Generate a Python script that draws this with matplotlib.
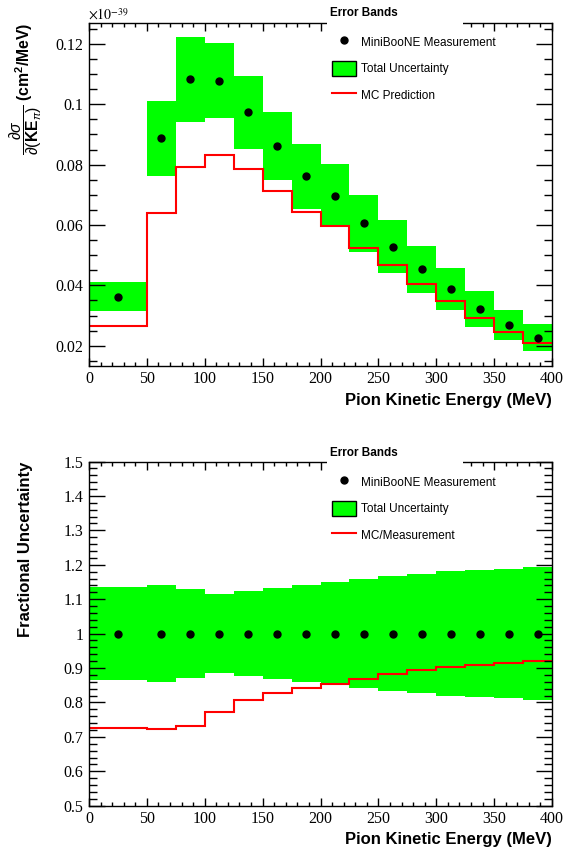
import numpy as np
import matplotlib
matplotlib.use("Agg")
import matplotlib.pyplot as plt
from matplotlib.lines import Line2D
from matplotlib.patches import Patch, Rectangle
from matplotlib.ticker import MultipleLocator, FuncFormatter

# binning in pion kinetic energy (MeV)
bin_edges = [0, 50, 75, 100, 125, 150, 175, 200, 225, 250, 275, 300, 325, 350, 375, 400]
# measured d(sigma)/d(KE_pi), units of 1e-39 cm^2/MeV
xsec = [0.0363, 0.0887, 0.1082, 0.1078, 0.0973, 0.0862, 0.0762, 0.0697,
        0.0605, 0.0528, 0.0453, 0.0387, 0.0322, 0.0268, 0.0227]
# total fractional uncertainty per bin
frac_err = [0.136, 0.140, 0.129, 0.115, 0.123, 0.132, 0.141, 0.149,
            0.158, 0.167, 0.173, 0.181, 0.184, 0.188, 0.193]
# MC / measurement
mc_ratio = [0.727, 0.722, 0.733, 0.772, 0.808, 0.827, 0.842, 0.855,
            0.868, 0.883, 0.894, 0.904, 0.910, 0.914, 0.919]

edges = np.array(bin_edges, dtype=float)
centers = 0.5 * (edges[:-1] + edges[1:])
data = np.array(xsec)
frac = np.array(frac_err)
ratio = np.array(mc_ratio)
err = data * frac
mc = data * ratio

plt.rcParams['font.family'] = ['Liberation Sans', 'DejaVu Sans']
plt.rcParams['mathtext.fontset'] = 'custom'
plt.rcParams['mathtext.rm'] = 'Liberation Sans'
plt.rcParams['mathtext.bf'] = 'Liberation Sans:bold'
plt.rcParams['mathtext.it'] = 'Liberation Sans:italic'
plt.rcParams['mathtext.sf'] = 'Liberation Sans'

GREEN = '#00ff00'
W, H = 563, 857

fig = plt.figure(figsize=(W / 100, H / 100), dpi=100)
ax1 = fig.add_axes([89 / W, 1 - 365.7 / H, 463 / W, 343 / H])
ax2 = fig.add_axes([89 / W, 1 - 805.7 / H, 463 / W, 344.2 / H])

fmt = FuncFormatter(lambda v, p: '%g' % round(v, 6))


def style_axes(ax, ymajor, yminor):
    ax.set_xlim(0, 400)
    ax.xaxis.set_major_locator(MultipleLocator(50))
    ax.xaxis.set_minor_locator(MultipleLocator(10))
    ax.yaxis.set_major_locator(MultipleLocator(ymajor))
    ax.yaxis.set_minor_locator(MultipleLocator(yminor))
    ax.xaxis.set_major_formatter(fmt)
    ax.yaxis.set_major_formatter(fmt)
    ax.tick_params(which='both', direction='in', top=True, right=True, width=1.0)
    ax.tick_params(axis='x', which='major', length=5.8, pad=4)
    ax.tick_params(axis='x', which='minor', length=2.9)
    ax.tick_params(axis='y', which='major', length=11.5, pad=4)
    ax.tick_params(axis='y', which='minor', length=5.8)
    for lab in ax.get_xticklabels() + ax.get_yticklabels():
        lab.set_family('Liberation Serif')
        lab.set_fontsize(11.5)
    for s in ax.spines.values():
        s.set_linewidth(1.0)
    ax.set_xlabel('Pion Kinetic Energy (MeV)', fontsize=12, fontweight='bold', loc='right')


def add_legend(ax, y_title, y_first, mc_label):
    # white box hiding the frame behind the legend title
    ax.add_patch(Rectangle((327 / W, 1 - (y_title + 22) / H), 136 / W, 22 / H,
                           transform=fig.transFigure, facecolor='white',
                           edgecolor='none', zorder=3, clip_on=False))
    fig.text(330 / W, 1 - y_title / H, 'Error Bands', fontsize=8.5,
             fontweight='bold', va='center', ha='left')
    handles = [Line2D([], [], marker='o', ls='none', color='black', ms=5),
               Patch(facecolor=GREEN, edgecolor='black', lw=1.0),
               Line2D([], [], color='red', lw=1.5)]
    labels = ['MiniBooNE Measurement', 'Total Uncertainty', mc_label]
    ax.legend(handles, labels, loc='upper left',
              bbox_to_anchor=(332 / W, 1 - (y_first - 6.5) / H),
              bbox_transform=fig.transFigure, frameon=False, fontsize=8.5,
              borderpad=0, borderaxespad=0, handlelength=2.03,
              handleheight=1.6, labelspacing=0.95, handletextpad=0.4)


# top panel: cross section
ax1.stairs(data + err, edges, baseline=data - err, fill=True, color=GREEN, lw=0)
ax1.stairs(mc, edges, baseline=None, color='red', lw=1.5)
ax1.plot(centers, data, 'o', color='black', ms=5)
ax1.set_ylim(0.0134, 0.127)
style_axes(ax1, 0.02, 0.005)
ax1.xaxis.set_label_coords(1.0, -39.3 / 343)
ax1.xaxis.label.set_va('baseline')
ax1.set_ylabel(r'$\dfrac{\partial\sigma}{\partial(\mathbf{KE}_{\pi})}\ \mathbf{(cm^{2}/MeV)}$',
               fontsize=11.3, loc='top')
ax1.yaxis.set_label_coords(-45 / 463, 1.0)
fig.text(88 / W, 1 - 19.5 / H, r'$\times10^{-39}$', fontsize=10,
         math_fontfamily='stix', va='baseline', ha='left')
add_legend(ax1, 13, 41, 'MC Prediction')

# bottom panel: fractional uncertainty
ax2.stairs(1 + frac, edges, baseline=1 - frac, fill=True, color=GREEN, lw=0)
ax2.stairs(ratio, edges, baseline=None, color='red', lw=1.5)
ax2.plot(centers, np.ones_like(centers), 'o', color='black', ms=5)
ax2.set_ylim(0.5, 1.5)
style_axes(ax2, 0.1, 0.02)
ax2.xaxis.set_label_coords(1.0, -38.3 / 344.2)
ax2.xaxis.label.set_va('baseline')
ax2.set_ylabel('Fractional Uncertainty', fontsize=12, fontweight='bold', loc='top')
ax2.yaxis.set_label_coords(-56 / 463, 1.0)
add_legend(ax2, 453, 481, 'MC/Measurement')

fig.savefig('out.png', dpi=100)
